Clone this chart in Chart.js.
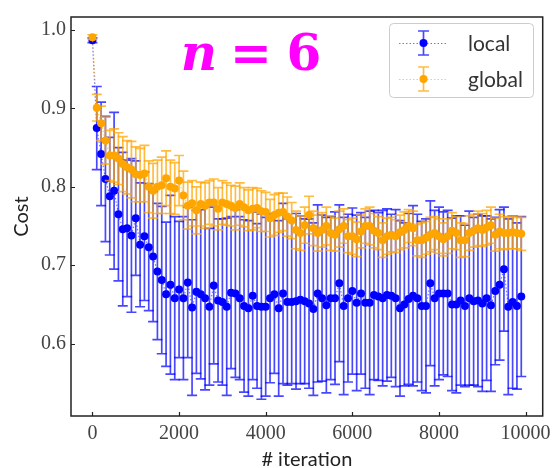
<!DOCTYPE html>
<html><head><meta charset="utf-8">
<script src="https://cdn.jsdelivr.net/npm/chart.js@4"></script>
<style>html,body{margin:0;padding:0;background:#fff}canvas{display:block}</style>
</head><body>
<canvas id="c" width="557" height="468"></canvas>
<script>
const iterations = [0,100,200,300,400,500,600,700,800,900,
 1000,1100,1200,1300,1400,1500,1600,1700,1800,1900,
 2000,2100,2200,2300,2400,2500,2600,2700,2800,2900,
 3000,3100,3200,3300,3400,3500,3600,3700,3800,3900,
 4000,4100,4200,4300,4400,4500,4600,4700,4800,4900,
 5000,5100,5200,5300,5400,5500,5600,5700,5800,5900,
 6000,6100,6200,6300,6400,6500,6600,6700,6800,6900,
 7000,7100,7200,7300,7400,7500,7600,7700,7800,7900,
 8000,8100,8200,8300,8400,8500,8600,8700,8800,8900,
 9000,9100,9200,9300,9400,9500,9600,9700,9800,9900];

const localMean = [0.987,0.875,0.842,0.810,0.788,0.795,0.765,0.746,0.747,0.738,
 0.760,0.726,0.737,0.723,0.711,0.692,0.681,0.663,0.675,0.658,
 0.669,0.658,0.678,0.646,0.666,0.663,0.658,0.647,0.674,0.655,
 0.653,0.647,0.665,0.664,0.658,0.648,0.645,0.661,0.648,0.647,
 0.647,0.658,0.663,0.645,0.664,0.653,0.653,0.654,0.656,0.654,
 0.651,0.644,0.664,0.658,0.649,0.658,0.658,0.677,0.648,0.658,
 0.667,0.652,0.664,0.652,0.652,0.662,0.660,0.658,0.662,0.661,
 0.658,0.645,0.650,0.657,0.661,0.658,0.648,0.648,0.677,0.658,
 0.664,0.664,0.664,0.650,0.650,0.655,0.648,0.658,0.654,0.655,
 0.651,0.658,0.649,0.667,0.675,0.695,0.647,0.653,0.648,0.660];

const localErr = [0.003,0.053,0.066,0.080,0.075,0.100,0.085,0.098,0.087,0.098,
 0.073,0.079,0.082,0.081,0.083,0.087,0.094,0.092,0.114,0.104,
 0.087,0.104,0.096,0.112,0.104,0.108,0.117,0.100,0.100,0.104,
 0.106,0.113,0.097,0.107,0.104,0.110,0.112,0.107,0.105,0.118,
 0.114,0.108,0.101,0.112,0.115,0.106,0.104,0.112,0.107,0.105,
 0.108,0.110,0.113,0.106,0.112,0.104,0.110,0.100,0.113,0.107,
 0.106,0.112,0.103,0.109,0.117,0.108,0.107,0.112,0.110,0.104,
 0.113,0.112,0.104,0.109,0.115,0.107,0.108,0.111,0.105,0.112,
 0.110,0.104,0.106,0.110,0.113,0.108,0.103,0.111,0.107,0.110,
 0.112,0.105,0.110,0.094,0.096,0.079,0.112,0.110,0.106,0.102];

const globalMean = [0.991,0.901,0.881,0.859,0.840,0.840,0.836,0.829,0.825,0.822,
 0.816,0.815,0.817,0.800,0.795,0.800,0.802,0.811,0.800,0.798,
 0.808,0.789,0.776,0.779,0.770,0.778,0.776,0.780,0.780,0.772,
 0.780,0.778,0.776,0.773,0.778,0.774,0.770,0.772,0.773,0.769,
 0.768,0.760,0.764,0.767,0.768,0.762,0.757,0.745,0.741,0.751,
 0.764,0.747,0.741,0.745,0.750,0.741,0.739,0.746,0.750,0.737,
 0.737,0.733,0.743,0.750,0.750,0.744,0.741,0.732,0.737,0.739,
 0.737,0.742,0.745,0.750,0.747,0.732,0.732,0.735,0.739,0.741,
 0.737,0.733,0.737,0.744,0.741,0.732,0.732,0.741,0.744,0.747,
 0.745,0.748,0.751,0.739,0.743,0.741,0.741,0.742,0.741,0.740];

const globalErr = [0.003,0.017,0.022,0.030,0.032,0.034,0.033,0.035,0.034,0.036,
 0.035,0.034,0.036,0.033,0.035,0.034,0.036,0.035,0.034,0.033,
 0.032,0.031,0.030,0.029,0.030,0.028,0.029,0.028,0.030,0.027,
 0.028,0.027,0.026,0.028,0.027,0.025,0.026,0.027,0.025,0.026,
 0.025,0.024,0.026,0.025,0.024,0.025,0.023,0.024,0.022,0.023,
 0.024,0.022,0.023,0.022,0.024,0.022,0.021,0.023,0.022,0.021,
 0.023,0.022,0.021,0.022,0.024,0.022,0.021,0.022,0.023,0.022,
 0.021,0.022,0.023,0.021,0.022,0.020,0.022,0.021,0.022,0.021,
 0.022,0.021,0.022,0.023,0.021,0.022,0.021,0.022,0.021,0.022,
 0.021,0.022,0.023,0.021,0.022,0.021,0.020,0.021,0.020,0.021];

const seriesNames = ['local', 'global'];
const xTicks = [0,2000,4000,6000,8000,10000];
const yTicks = [0.6,0.7,0.8,0.9,1.0];
const xLabel = '# iteration';
const yLabel = 'Cost';
const annotationText = ['n', '=', '6'];

const BLUE = '#0000ff', BLUE_A = 'rgba(0,0,255,0.72)', BLUE_L = 'rgba(0,0,255,0.55)';
const ORANGE = '#ffa500', ORANGE_A = 'rgba(255,165,0,0.75)', ORANGE_L = 'rgba(255,165,0,0.6)';

const errPlugin = {
  id: 'errbars',
  beforeDatasetDraw(chart, args) {
    const ds = chart.data.datasets[args.index];
    if (!ds.errors) return;
    const {ctx, chartArea: ca} = chart;
    const xs = chart.scales.x, ys = chart.scales.y;
    ctx.save();
    ctx.beginPath(); ctx.rect(ca.left, ca.top, ca.right - ca.left, ca.bottom - ca.top); ctx.clip();
    ctx.strokeStyle = ds.errColor; ctx.lineWidth = 1.7;
    ds.data.forEach((p, i) => {
      const e = ds.errors[i];
      const px = xs.getPixelForValue(p.x);
      const y1 = ys.getPixelForValue(p.y + e), y2 = ys.getPixelForValue(p.y - e);
      ctx.beginPath();
      ctx.moveTo(px, y1); ctx.lineTo(px, y2);
      ctx.moveTo(px - 5, y1); ctx.lineTo(px + 5, y1);
      ctx.moveTo(px - 5, y2); ctx.lineTo(px + 5, y2);
      ctx.stroke();
    });
    ctx.restore();
  }
};

const framePlugin = {
  id: 'frame',
  afterDraw(chart) {
    const {ctx, chartArea: ca} = chart;
    const xs = chart.scales.x, ys = chart.scales.y;
    ctx.save();
    ctx.strokeStyle = '#222'; ctx.lineWidth = 1.5;
    ctx.strokeRect(ca.left, ca.top, ca.right - ca.left, ca.bottom - ca.top);
    ctx.lineWidth = 1.2;
    ctx.beginPath();
    yTicks.forEach(v => { const y = Math.round(ys.getPixelForValue(v)) + 0.5; ctx.moveTo(ca.left, y); ctx.lineTo(ca.left + 4, y); });
    xTicks.forEach(v => { const x = Math.round(xs.getPixelForValue(v)) + 0.5; ctx.moveTo(x, ca.bottom); ctx.lineTo(x, ca.bottom - 4); });
    ctx.stroke();

    // annotation n = 6
    ctx.fillStyle = '#ff00ff';
    ctx.textBaseline = 'alphabetic'; ctx.textAlign = 'center';
    ctx.font = 'italic bold 50px "DejaVu Serif"';
    ctx.fillText(annotationText[0], 199, 70);
    ctx.font = 'bold 50px "DejaVu Serif"';
    ctx.fillText(annotationText[1], 251, 70);
    ctx.fillText(annotationText[2], 304, 70);

    // legend
    const lx = 389.5, ly = 23.5, lw = 144, lh = 74;
    ctx.beginPath();
    ctx.roundRect(lx, ly, lw, lh, 4);
    ctx.fillStyle = 'rgba(255,255,255,0.85)'; ctx.fill();
    ctx.strokeStyle = '#cccccc'; ctx.lineWidth = 1; ctx.stroke();
    const entries = [[seriesNames[0], BLUE, BLUE_A, BLUE_L, 43], [seriesNames[1], ORANGE, ORANGE_A, ORANGE_L, 79]];
    entries.forEach(([name, c, ce, cl, y]) => {
      ctx.save();
      ctx.strokeStyle = cl; ctx.lineWidth = 1.2; ctx.setLineDash([1.5, 2]);
      ctx.beginPath(); ctx.moveTo(399, y + 0.5); ctx.lineTo(448, y + 0.5); ctx.stroke();
      ctx.setLineDash([]); ctx.lineWidth = 1.7; ctx.strokeStyle = ce;
      ctx.beginPath();
      ctx.moveTo(423.5, y - 12); ctx.lineTo(423.5, y + 12);
      ctx.moveTo(418, y - 12); ctx.lineTo(429, y - 12);
      ctx.moveTo(418, y + 12); ctx.lineTo(429, y + 12);
      ctx.stroke();
      ctx.fillStyle = c; ctx.beginPath(); ctx.arc(423.5, y, 4, 0, Math.PI * 2); ctx.fill();
      ctx.restore();
      ctx.fillStyle = '#333'; ctx.font = '21px Lato'; ctx.textAlign = 'left'; ctx.textBaseline = 'middle';
      ctx.fillText(name, 468, y + 1);
    });
    ctx.restore();
  }
};

const mk = (means) => iterations.map((x, i) => ({x, y: means[i]}));

new Chart(document.getElementById('c'), {
  type: 'line',
  data: {
    datasets: [
      { label: seriesNames[0], data: mk(localMean), errors: localErr, errColor: BLUE_A,
        borderColor: BLUE_L, borderWidth: 1.2, borderDash: [1.5, 2],
        pointRadius: 4, pointBackgroundColor: BLUE, pointBorderColor: BLUE, pointBorderWidth: 0,
        tension: 0, order: 1 },
      { label: seriesNames[1], data: mk(globalMean), errors: globalErr, errColor: ORANGE_A,
        borderColor: ORANGE_L, borderWidth: 1.2, borderDash: [1.5, 2],
        pointRadius: 4, pointBackgroundColor: ORANGE, pointBorderColor: ORANGE, pointBorderWidth: 0,
        tension: 0, order: 0 }
    ]
  },
  options: {
    responsive: false, animation: false, devicePixelRatio: 1,
    layout: { padding: { left: 0, right: 11, top: 11, bottom: 0 } },
    plugins: { legend: { display: false }, tooltip: { enabled: false } },
    scales: {
      x: {
        type: 'linear', min: -495, max: 10395,
        afterBuildTicks: s => { s.ticks = xTicks.map(v => ({value: v})); },
        afterFit: s => { s.height = 52; },
        grid: { display: false, drawTicks: false }, border: { display: false },
        ticks: { font: { family: 'Liberation Serif', size: 20 }, color: '#444', padding: 6, maxRotation: 0, autoSkip: false, callback: v => String(v) },
        title: { display: true, text: xLabel, font: { family: 'Lato', size: 20, lineHeight: 1 }, color: '#222', padding: { top: 0, bottom: -2 } }
      },
      y: {
        type: 'linear', min: 0.5076, max: 1.0167,
        afterBuildTicks: s => { s.ticks = yTicks.map(v => ({value: v})); },
        afterFit: s => { s.width = 71; },
        grid: { display: false, drawTicks: false }, border: { display: false },
        ticks: { font: { family: 'Liberation Serif', size: 20 }, color: '#444', padding: 5, autoSkip: false, callback: v => v.toFixed(1) },
        title: { display: true, text: yLabel, font: { family: 'Lato', size: 20, lineHeight: 1 }, color: '#222', padding: { top: 12, bottom: 0 } }
      }
    }
  },
  plugins: [errPlugin, framePlugin]
});
</script>
</body></html>
